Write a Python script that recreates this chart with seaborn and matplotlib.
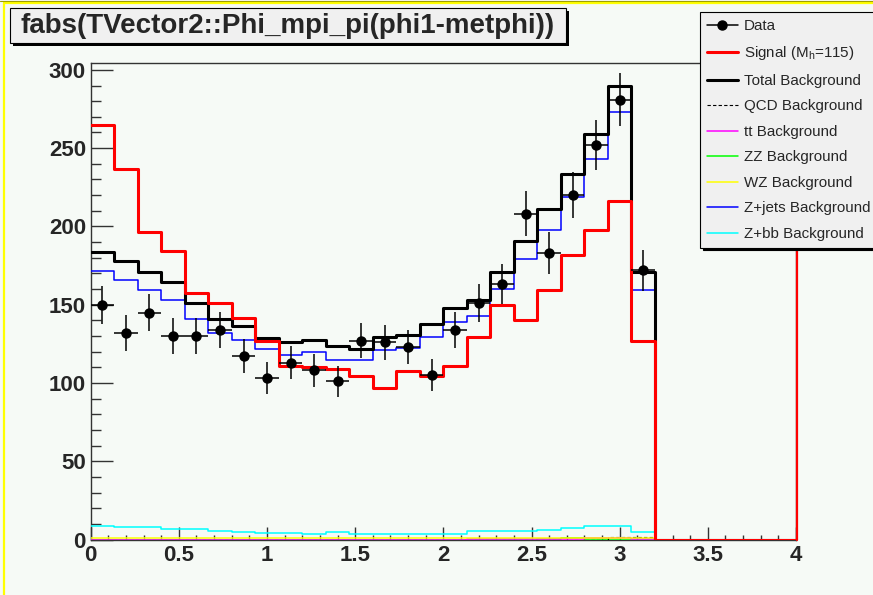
import numpy as np
import pandas as pd
import matplotlib
matplotlib.use("Agg")
import matplotlib.pyplot as plt
import matplotlib.transforms as mtransforms
from matplotlib.lines import Line2D
from matplotlib.patches import Rectangle
from matplotlib.ticker import MultipleLocator, FuncFormatter
import seaborn as sns

# ---- binning: 30 bins on [0, 4]; only the first 24 are populated ----
n_bins = 30
x_lo, x_hi = 0.0, 4.0

data_counts = [150, 132, 145, 130, 130, 134, 117, 103, 113, 108, 101, 127,
               126, 123, 105, 134, 151, 163, 208, 183, 220, 252, 281, 172]
signal = [264.6, 236.8, 196.7, 184.6, 157.4, 151.0, 141.5, 126.6, 110.6, 110.2,
          108.9, 104.2, 96.8, 107.4, 104.7, 110.6, 129.4, 149.5, 140.4, 159.5,
          181.9, 197.4, 216.3, 126.6]
total_bkg = [183.8, 177.6, 170.6, 164.2, 150.8, 141.0, 136.6, 128.7, 125.9, 127.2,
             123.4, 121.8, 129.4, 130.8, 137.6, 147.9, 152.7, 170.6, 190.4, 211.2,
             233.4, 259.1, 289.9, 171.2]
qcd_bkg = [0] * 22 + [1.4, 1.4]
tt_bkg = [0] * 16 + [0.4, 0.4, 0.4, 0.4, 0.5, 0.9, 0.9, 0.3]
zz_bkg = [0] * 19 + [0.3, 1.0, 0.4, 0, 0]
wz_bkg = [0.7] * 24
zjets_bkg = [171.5, 165.9, 159.5, 153.0, 140.8, 131.9, 127.6, 121.7, 117.8, 119.5,
             114.4, 114.4, 121.2, 122.3, 129.1, 138.9, 142.5, 160.0, 179.3, 197.8,
             219.1, 243.1, 273.3, 159.5]
zbb_bkg = [8.8, 7.8, 7.8, 6.7, 6.7, 5.6, 5.0, 4.0, 4.0, 3.8, 4.9, 3.8, 3.8, 3.8,
           3.8, 3.8, 5.5, 5.5, 5.5, 6.3, 7.2, 8.6, 8.6, 4.6]

edges = np.linspace(x_lo, x_hi, n_bins + 1)
centers = 0.5 * (edges[:-1] + edges[1:])
half_w = 0.5 * (edges[1] - edges[0])


def padded(vals):
    out = np.zeros(n_bins)
    out[:len(vals)] = vals
    return out


# name, values, colour, linewidth, linestyle, zorder (drawing order)
samples = [
    ("ZZ Background", zz_bkg, "#00ff00", 1.1, "-", 3.0),
    ("QCD Background", qcd_bkg, "black", 0.8, (0, (3, 2)), 3.1),
    ("tt Background", tt_bkg, "#ff00ff", 1.1, "-", 3.2),
    ("WZ Background", wz_bkg, "#ffff00", 1.1, "-", 3.3),
    ("Z+jets Background", zjets_bkg, "#0000ff", 1.1, "-", 3.4),
    ("Z+bb Background", zbb_bkg, "#00ffff", 1.1, "-", 3.5),
    ("Total Background", total_bkg, "black", 2.2, "-", 3.6),
    ("Signal", signal, "#ff0000", 2.2, "-", 3.7),
]

frames = []
for name, vals, *_ in samples:
    frames.append(pd.DataFrame({"x": centers, "w": padded(vals), "sample": name}))
hists = pd.concat(frames, ignore_index=True)

sns.set_style("ticks")
bg = "#f6faf6"
plt.rcParams["font.family"] = ["Liberation Sans", "DejaVu Sans"]
plt.rcParams["mathtext.fontset"] = "custom"
plt.rcParams["mathtext.rm"] = "Liberation Sans"
plt.rcParams["mathtext.it"] = "Liberation Sans"

W, H = 873, 595
fig = plt.figure(figsize=(W / 100, H / 100), dpi=100, facecolor=bg)
ax = fig.add_axes([90.7 / W, 1 - 539.5 / H, (796 - 90.7) / W, (539.5 - 63) / H])
ax.set_facecolor(bg)

for name, vals, color, lw, ls, z in samples:
    sns.histplot(data=hists[hists["sample"] == name], x="x", weights="w",
                 bins=n_bins, binrange=(x_lo, x_hi), element="step", fill=False,
                 color=color, linewidth=lw, linestyle=ls, zorder=z, ax=ax)

# signal histogram edge running up the right border
shift = mtransforms.ScaledTranslation(1.2 / 100, 0, fig.dpi_scale_trans)
ax.plot([x_hi, x_hi], [0, 1], color="#ff0000", lw=1.6, zorder=3.7,
        transform=mtransforms.blended_transform_factory(ax.transData, ax.transAxes) + shift,
        clip_on=False)

# data points with Poisson errors
counts = np.array(data_counts, dtype=float)
ax.errorbar(centers[:len(counts)], counts, yerr=np.sqrt(counts), xerr=half_w,
            fmt="o", color="black", ms=6.5, elinewidth=1.1, capsize=0, zorder=10)

ax.set_xlim(x_lo, x_hi)
ax.set_ylim(0, 1.05 * max(total_bkg))
ax.set_xlabel("")
ax.set_ylabel("")

ax.xaxis.set_major_locator(MultipleLocator(0.5))
ax.xaxis.set_minor_locator(MultipleLocator(0.1))
ax.yaxis.set_major_locator(MultipleLocator(50))
ax.yaxis.set_minor_locator(MultipleLocator(10))
ax.xaxis.set_major_formatter(FuncFormatter(lambda v, p: f"{v:g}"))
ax.yaxis.set_major_formatter(FuncFormatter(lambda v, p: f"{v:g}"))

ax.tick_params(axis="both", which="both", direction="in", color="#333333",
               width=1.0, labelsize=16, top=False, right=False)
ax.tick_params(axis="y", which="major", length=15.6, pad=3.4)
ax.tick_params(axis="y", which="minor", length=7.2)
ax.tick_params(axis="x", which="major", length=9.6, pad=4)
ax.tick_params(axis="x", which="minor", length=3.6)
for lab in ax.get_xticklabels() + ax.get_yticklabels():
    lab.set_fontweight("bold")
for sp in ax.spines.values():
    sp.set_visible(True)
    sp.set_color("#333333")
    sp.set_linewidth(1.0)
    sp.set_zorder(2.9)

# canvas border
fig.add_artist(Line2D([4 / W, 4 / W], [0, 1 - 3 / H], color="#ffff00", lw=1.6,
                      transform=fig.transFigure))
fig.add_artist(Line2D([4 / W, 1], [1 - 3 / H, 1 - 3 / H], color="#ffff00", lw=1.6,
                      transform=fig.transFigure))
fig.add_artist(Line2D([0, 1], [1 - 0.5 / H, 1 - 0.5 / H], color="#a0a000", lw=0.8,
                      transform=fig.transFigure))

# title box with drop shadow
tx0, ty0, tx1, ty1 = 10, 8, 566, 43
fig.add_artist(Rectangle(((tx0 + 3) / W, 1 - (ty1 + 3) / H), (tx1 - tx0) / W,
                         (ty1 - ty0) / H, transform=fig.transFigure,
                         facecolor="black", edgecolor="none", zorder=1))
fig.add_artist(Rectangle((tx0 / W, 1 - ty1 / H), (tx1 - tx0) / W, (ty1 - ty0) / H,
                         transform=fig.transFigure, facecolor="#f0f0f0",
                         edgecolor="black", lw=0.8, zorder=2))
fig.text((tx0 + tx1) / 2 / W, 1 - 26 / H, "fabs(TVector2::Phi_mpi_pi(phi1-metphi))",
         ha="center", va="center", fontsize=20, fontweight="bold", zorder=3)

# legend
handles = [
    Line2D([], [], color="black", marker="o", ms=6.5, lw=1.1),
    Line2D([], [], color="#ff0000", lw=2.2),
    Line2D([], [], color="black", lw=2.2),
    Line2D([], [], color="black", lw=0.8, ls=(0, (3, 2))),
    Line2D([], [], color="#ff00ff", lw=1.1),
    Line2D([], [], color="#00ff00", lw=1.1),
    Line2D([], [], color="#ffff00", lw=1.1),
    Line2D([], [], color="#0000ff", lw=1.1),
    Line2D([], [], color="#00ffff", lw=1.1),
]
labels = ["Data", "Signal (M$_{h}$=115)", "Total Background", "QCD Background",
          "tt Background", "ZZ Background", "WZ Background", "Z+jets Background",
          "Z+bb Background"]
leg = fig.legend(handles, labels, loc="upper left",
                 bbox_to_anchor=(700 / W, 1 - 12 / H), bbox_transform=fig.transFigure,
                 frameon=True, fancybox=False, edgecolor="black", facecolor="#f0f0f0",
                 framealpha=1, shadow={"color": "black", "alpha": 1}, fontsize=10.9,
                 borderpad=0.45, labelspacing=0.76, handlelength=2.07,
                 handletextpad=0.4, borderaxespad=0)
leg.get_frame().set_linewidth(0.8)
leg.set_zorder(20)

fig.savefig("out.png", dpi=100, facecolor=bg)
